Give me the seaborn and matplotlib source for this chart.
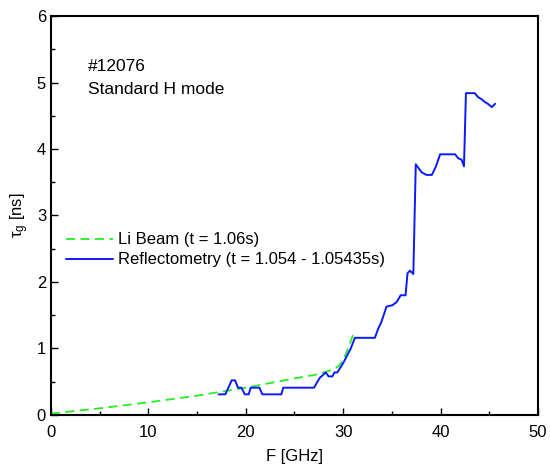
import pandas as pd
import matplotlib.pyplot as plt
import seaborn as sns
from matplotlib.ticker import MultipleLocator

# Li beam (dashed green)
li_f = [0, 5, 10, 15, 20, 25, 27, 28.5, 29.5, 30, 30.5, 31]
li_tau = [0.02, 0.1, 0.19, 0.29, 0.41, 0.55, 0.6, 0.66, 0.73, 0.82, 1.0, 1.2]

# Reflectometry (solid blue)
refl_f = [17.2, 17.9, 18.55, 18.9, 19.2, 19.55, 19.9, 20.3, 20.5, 21.4, 21.7, 23.65,
          23.85, 27.0, 27.6, 27.85, 28.2, 28.5, 28.9, 29.1, 29.4, 30.0, 30.6, 30.75,
          31.2, 33.25, 33.6, 33.9, 34.45, 35.05, 35.5, 35.9, 36.4, 36.6, 36.85, 37.2,
          37.45, 38.05, 38.55, 39.1, 39.5, 39.95, 41.5, 41.8, 42.15, 42.4, 42.6, 43.5,
          43.85, 44.2, 44.5, 44.85, 45.25, 45.6]
refl_tau = [0.31, 0.31, 0.52, 0.52, 0.41, 0.41, 0.31, 0.31, 0.41, 0.41, 0.31, 0.31,
            0.41, 0.41, 0.56, 0.59, 0.64, 0.58, 0.58, 0.64, 0.64, 0.78, 0.95, 0.99,
            1.16, 1.16, 1.30, 1.39, 1.63, 1.65, 1.70, 1.80, 1.80, 2.13, 2.17, 2.12,
            3.77, 3.65, 3.61, 3.61, 3.73, 3.92, 3.92, 3.86, 3.84, 3.74, 4.84, 4.84,
            4.78, 4.75, 4.71, 4.68, 4.63, 4.68]

li = pd.DataFrame({'F': li_f, 'tau': li_tau})
refl = pd.DataFrame({'F': refl_f, 'tau': refl_tau})

sns.set_style('white')
plt.rcParams['font.family'] = ['Liberation Sans', 'DejaVu Sans']
plt.rcParams['mathtext.fontset'] = 'custom'
plt.rcParams['mathtext.rm'] = 'Liberation Sans'
plt.rcParams['mathtext.it'] = 'Liberation Sans'
plt.rcParams['text.color'] = 'black'
plt.rcParams['axes.labelcolor'] = 'black'
plt.rcParams['xtick.color'] = 'black'
plt.rcParams['ytick.color'] = 'black'

fig = plt.figure(figsize=(5.5, 4.71), dpi=100)
ax = fig.add_axes([0.0927, 0.119, 0.8855, 0.847])

sns.lineplot(data=li, x='F', y='tau', ax=ax, color='#22ee22', linestyle=(0, (5, 3)),
             linewidth=1.3, label='Li Beam (t = 1.06s)', sort=False)
sns.lineplot(data=refl, x='F', y='tau', ax=ax, color='#0a1aff', linewidth=1.4,
             label='Reflectometry (t = 1.054 - 1.05435s)', sort=False)

ax.set_xlim(0, 50)
ax.set_ylim(0, 6)
ax.xaxis.set_major_locator(MultipleLocator(10))
ax.xaxis.set_minor_locator(MultipleLocator(5))
ax.yaxis.set_major_locator(MultipleLocator(1))
ax.yaxis.set_minor_locator(MultipleLocator(0.5))
ax.tick_params(which='both', direction='in', bottom=True, left=True,
               top=False, right=False, labelsize=12, color='black')
ax.tick_params(which='major', length=5, width=1)
ax.tick_params(which='minor', length=3, width=1)
ax.tick_params(axis='x', pad=7)
for s in ax.spines.values():
    s.set_color('black')
    s.set_linewidth(1.5)

ax.set_xlabel('F [GHz]', fontsize=12, labelpad=7)
ax.set_ylabel(r'$\tau_g$ [ns]', fontsize=12, labelpad=4)

ax.text(3.8, 5.18, '#12076', fontsize=12.5)
ax.text(3.8, 4.82, 'Standard H mode', fontsize=12.5)

ax.legend(loc='upper left', bbox_to_anchor=(0.0, 0.495), frameon=False,
          fontsize=12, handlelength=2.85, handletextpad=0.3, labelspacing=0.3)

plt.savefig('out.png', dpi=100)
